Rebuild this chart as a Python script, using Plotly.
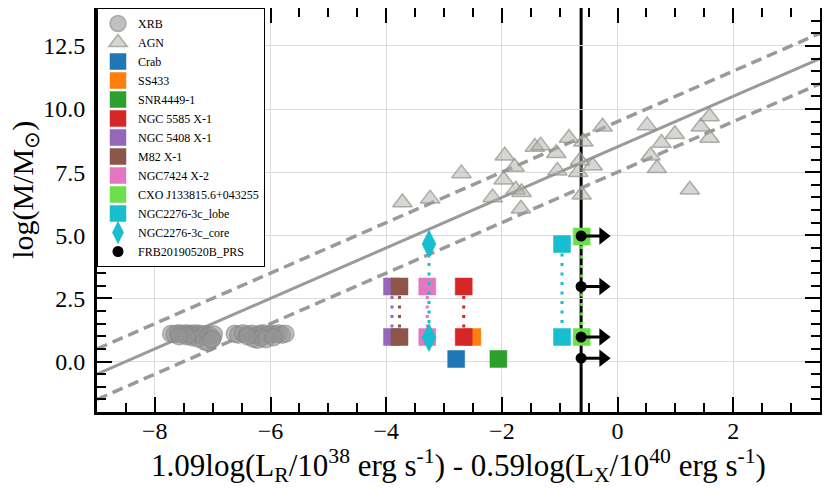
import plotly.graph_objects as go

# -------------------------------
# Data
# -------------------------------
# XRB sample, grey circles
xrb_x = [-7.72, -7.66, -7.60, -7.55, -7.50, -7.46, -7.42, -7.38, -7.34, -7.30,
         -7.26, -7.22, -7.18, -7.14, -7.10, -7.05, -7.00, -6.98, -7.35, -7.25,
         -7.15, -7.08, -7.02, -7.45, -7.58,
         -6.62, -6.56, -6.48, -6.40, -6.32, -6.25, -6.18, -6.12, -6.05, -5.98,
         -5.92, -5.86, -5.80, -5.74, -6.30, -6.22, -6.15, -6.08, -6.40, -5.95]
xrb_y = [1.10, 1.08, 1.12, 1.10, 1.06, 1.12, 1.08, 1.10, 1.04, 1.12,
         1.06, 1.10, 1.02, 1.08, 0.98, 1.04, 0.92, 1.08, 0.96, 0.90,
         0.80, 0.74, 0.86, 1.00, 1.00,
         1.10, 1.06, 1.12, 1.08, 1.10, 1.04, 1.10, 1.12, 1.06, 1.10,
         1.08, 1.12, 1.06, 1.10, 0.90, 0.86, 0.94, 0.88, 1.00, 0.96]

# AGN sample, grey triangles
agn_x = [-3.72, -3.24, -2.70, -2.16, -1.95, -1.78, -1.97, -1.76, -1.66, -1.67,
         -1.43, -1.33, -1.06, -1.04, -0.84, -0.59, -0.65, -0.68, -0.43, -0.62,
         -0.26, 0.51, 0.76, 0.99, 0.57, 0.68, 1.25, 1.44, 1.59, 1.59]
agn_y = [6.30, 6.45, 7.45, 6.50, 8.15, 7.70, 7.20, 6.80, 6.70, 6.05,
         8.50, 8.55, 8.25, 7.55, 8.85, 8.70, 7.95, 7.50, 7.75, 6.60,
         9.30, 9.35, 8.65, 9.00, 8.15, 7.65, 6.80, 9.30, 9.70, 8.85]

# individual sources
crab_x, crab_y = [-2.79], [0.10]
ss433_x, ss433_y = [-2.51], [0.97]
snr4449_x, snr4449_y = [-2.06], [0.10]
ngc5585_x, ngc5585_y = [-2.66, -2.66], [2.97, 0.97]
ngc5408_x, ngc5408_y = [-3.90, -3.90], [2.97, 0.97]
m82_x, m82_y = [-3.77, -3.77], [2.97, 0.97]
ngc7424_x, ngc7424_y = [-3.29, -3.29], [2.97, 0.97]
cxo_x, cxo_y = [-0.62, -0.62], [4.95, 0.97]
lobe_x, lobe_y = [-0.96, -0.96], [4.65, 0.97]
core_x, core_y = [-3.26, -3.26], [4.65, 0.95]
frb_x = [-0.63, -0.63, -0.63, -0.63]
frb_y = [4.97, 2.97, 0.97, 0.13]
frb_arrow = 0.38  # lower limit arrow length

# fundamental plane relation
fit_x = [-9.0, 3.5]
fit_slope = 1.0
fit_icpt = 8.5
fit_scatter = 1.0

SERIF = "Liberation Serif, Times New Roman, serif"
GREY = "#9a9a9a"

fig = go.Figure()

# -------------------------------
# Relation + scatter band
# -------------------------------
fit_y = [fit_slope * x + fit_icpt for x in fit_x]
fig.add_trace(go.Scatter(x=fit_x, y=fit_y, mode="lines",
                         line=dict(color=GREY, width=3),
                         showlegend=False, hoverinfo="skip"))
for off in (fit_scatter, -fit_scatter):
    fig.add_trace(go.Scatter(x=fit_x, y=[v + off for v in fit_y], mode="lines",
                             line=dict(color=GREY, width=3.5, dash="11px,6px"),
                             showlegend=False, hoverinfo="skip"))

# -------------------------------
# Comparison samples
# -------------------------------
fig.add_trace(go.Scatter(
    x=xrb_x, y=xrb_y, mode="markers", name="XRB",
    marker=dict(symbol="circle", size=17, color="rgba(150,150,150,0.6)",
                line=dict(color="rgba(135,135,135,0.6)", width=1.5))))
fig.add_trace(go.Scatter(
    x=agn_x, y=agn_y, mode="markers", name="AGN",
    marker=dict(symbol="triangle-up", size=17, color="rgba(170,175,165,0.5)",
                line=dict(color="rgba(145,147,143,0.7)", width=1.5))))

# -------------------------------
# Individual sources
# -------------------------------
sources = [
    ("Crab", crab_x, crab_y, "#1f77b4", "square"),
    ("SS433", ss433_x, ss433_y, "#ff7f0e", "square"),
    ("SNR4449-1", snr4449_x, snr4449_y, "#2ca02c", "square"),
    ("NGC 5585 X-1", ngc5585_x, ngc5585_y, "#d62728", "square"),
    ("NGC 5408 X-1", ngc5408_x, ngc5408_y, "#9467bd", "square"),
    ("M82 X-1", m82_x, m82_y, "#8c564b", "square"),
    ("NGC7424 X-2", ngc7424_x, ngc7424_y, "#e377c2", "square"),
    ("CXO J133815.6+043255", cxo_x, cxo_y, "#6be04a", "square"),
    ("NGC2276-3c_lobe", lobe_x, lobe_y, "#17becf", "square"),
    ("NGC2276-3c_core", core_x, core_y, "#17becf", "diamond-tall"),
]
for name, xs, ys, col, sym in sources:
    if len(ys) > 1:
        fig.add_trace(go.Scatter(x=xs, y=ys, mode="lines",
                                 line=dict(color=col, width=3, dash="3px,6.5px"),
                                 showlegend=False, hoverinfo="skip"))
    size = 20 if sym == "diamond-tall" else 17
    fig.add_trace(go.Scatter(x=xs, y=ys, mode="markers", name=name,
                             marker=dict(symbol=sym, size=size, color=col,
                                         line=dict(color=col, width=0.5))))

# FRB PRS with lower-limit arrows
arr_x, arr_y = [], []
for x, y in zip(frb_x, frb_y):
    arr_x += [x, x + frb_arrow, None]
    arr_y += [y, y, None]
fig.add_trace(go.Scatter(x=arr_x, y=arr_y, mode="lines",
                         line=dict(color="black", width=3),
                         showlegend=False, hoverinfo="skip"))
fig.add_trace(go.Scatter(x=[x + frb_arrow for x in frb_x], y=frb_y, mode="markers",
                         marker=dict(symbol="triangle-right", size=15, color="black"),
                         showlegend=False, hoverinfo="skip"))
fig.add_trace(go.Scatter(x=frb_x, y=frb_y, mode="markers", name="FRB20190520B_PRS",
                         marker=dict(symbol="circle", size=11, color="black")))

fig.add_vline(x=frb_x[0], line=dict(color="black", width=3), layer="below")

# -------------------------------
# Layout
# -------------------------------
axis_common = dict(
    showline=True, linecolor="black", linewidth=3, mirror="ticks",
    ticks="inside", ticklen=15, tickwidth=2, tickcolor="black",
    showgrid=True, gridcolor="#dcdcdc", gridwidth=1, zeroline=False,
    tickfont=dict(family=SERIF, size=24, color="black"),
    automargin=False,
)
fig.update_xaxes(range=[-9, 3.5], dtick=2, tick0=0, ticklabelstandoff=-5,
                 minor=dict(dtick=0.5, ticks="inside", ticklen=9, tickwidth=1.5,
                            tickcolor="black", showgrid=False),
                 title=dict(text="1.09log(L<sub>R</sub>/10<sup>38</sup> erg s<sup>-1</sup>) - "
                                 "0.59log(L<sub>X</sub>/10<sup>40</sup> erg s<sup>-1</sup>)",
                            font=dict(family=SERIF, size=31, color="black"), standoff=8),
                 **axis_common)
fig.update_yaxes(range=[-2, 14], dtick=2.5, tick0=0, tickformat=".1f", ticklabelstandoff=4,
                 minor=dict(dtick=0.5, ticks="inside", ticklen=9, tickwidth=1.5,
                            tickcolor="black", showgrid=False),
                 **axis_common)

# y title placed as rotated annotation, left of the tick labels
fig.add_annotation(text="log(M/M<sub>⊙</sub>)", textangle=-90,
                   xref="paper", yref="paper", x=-0.0996, y=0.55,
                   xanchor="center", yanchor="middle", showarrow=False,
                   font=dict(family=SERIF, size=30, color="black"))

# page has an 8px body margin, so the figure is shrunk by that much
fig.update_layout(
    width=822, height=485,
    margin=dict(l=89, r=10, t=0, b=81),
    plot_bgcolor="white", paper_bgcolor="white",
    font=dict(family=SERIF, color="black"),
    legend=dict(x=0, y=1, xanchor="left", yanchor="top",
                bgcolor="white", bordercolor="black", borderwidth=1,
                font=dict(family=SERIF, size=12, color="black"),
                tracegroupgap=0),
)

fig.write_html("out.html")
